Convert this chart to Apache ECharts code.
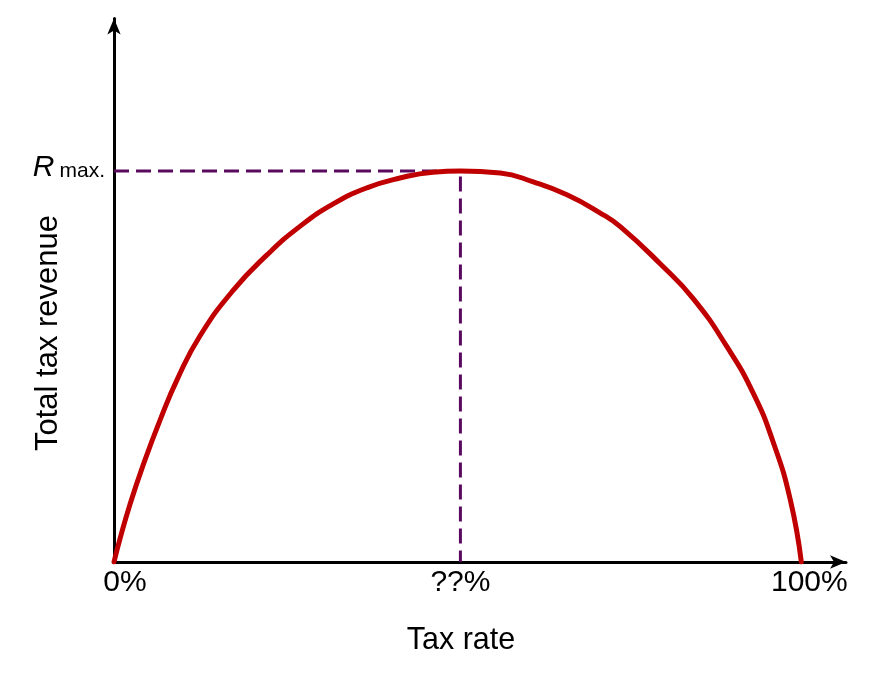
<!DOCTYPE html>
<html>
<head>
<meta charset="utf-8">
<title>Laffer curve</title>
<script src="https://cdn.jsdelivr.net/npm/echarts@6/dist/echarts.min.js"></script>
<style>
  html, body { margin: 0; padding: 0; background: #fff; }
  #chart { width: 871px; height: 673px; }
</style>
</head>
<body>
<div id="chart"></div>
<script>
// tax rate (%) and revenue (% of max)
const taxRate = [0, 0.9, 2.3, 4.2, 6.7, 9.3, 12.5, 17.3, 22.3, 27.1, 31.9, 36.8, 41.6, 46.4, 50.4,
  56.2, 61.0, 65.9, 70.7, 73.7, 79.5, 84.3, 89.2, 93.0, 95.9, 98.4, 100]
const revenue = [0, 6.1, 14.6, 24.6, 36.3, 47.1, 57.8, 69.4, 78.6, 85.9, 91.6, 95.7, 98.2, 99.7, 100,
  99.5, 97.2, 93.9, 89.3, 85.7, 76.2, 67.3, 55.0, 43.2, 30.7, 15.9, 0]

// peak of the curve (dashed guide lines)
const peakRate = 50.4
const peakRevenue = 100

const xTickValues = [0, peakRate, 100]
const xTickLabels = ['{a|0%}', '{b|??%}', '{c|100%}']

const chart = echarts.init(document.getElementById('chart'))

const font = 'Liberation Sans, Arial, sans-serif'
const tickStyle = { fontSize: 30, fontFamily: font, color: '#000' }

const option = {
  animation: false,
  grid: { left: 114, right: 25, top: 18.5, bottom: 111 },
  xAxis: {
    type: 'value',
    min: 0,
    max: 106.5,
    splitLine: { show: false },
    axisTick: { show: false },
    axisLine: {
      onZero: false,
      symbol: ['none', 'arrow'],
      symbolSize: [10, 16],
      lineStyle: { color: '#000', width: 3 }
    },
    axisLabel: {
      customValues: xTickValues,
      formatter: v => xTickLabels[xTickValues.indexOf(v)],
      margin: 6,
      rich: {
        a: Object.assign({ padding: [0, 0, 0, 22] }, tickStyle),
        b: tickStyle,
        c: Object.assign({ padding: [0, 0, 0, 16] }, tickStyle)
      }
    }
  },
  yAxis: {
    type: 'value',
    min: 0,
    max: 139,
    splitLine: { show: false },
    axisTick: { show: false },
    axisLine: {
      onZero: false,
      symbol: ['none', 'arrow'],
      symbolSize: [10, 16],
      lineStyle: { color: '#000', width: 3 }
    },
    axisLabel: {
      customValues: [peakRevenue],
      formatter: () => '{r|R}{m|max.}',
      margin: 9,
      rich: {
        r: { fontSize: 30, fontStyle: 'italic', fontFamily: font, color: '#000', padding: [0, 5, 7, 0] },
        m: { fontSize: 21, fontFamily: font, color: '#000' }
      }
    }
  },
  graphic: [
    {
      type: 'text',
      x: 461,
      y: 641,
      style: {
        text: 'Tax rate',
        fontSize: 30.5,
        fontFamily: font,
        fill: '#000',
        align: 'center',
        verticalAlign: 'middle'
      }
    },
    {
      type: 'text',
      x: 48,
      y: 333,
      rotation: Math.PI / 2,
      style: {
        text: 'Total tax revenue',
        fontSize: 31,
        fontFamily: font,
        fill: '#000',
        align: 'center',
        verticalAlign: 'middle'
      }
    }
  ],
  series: [
    {
      name: 'guides',
      type: 'line',
      symbol: 'none',
      silent: true,
      data: [[0, peakRevenue], [peakRate, peakRevenue], [peakRate, 0]],
      lineStyle: { color: '#5a0a5e', width: 3, type: [15, 7] },
      z: 1
    },
    {
      name: 'revenue',
      type: 'line',
      symbol: 'none',
      smooth: 0.5,
      data: taxRate.map((x, i) => [x, revenue[i]]),
      lineStyle: { color: '#c00000', width: 5, cap: 'round' },
      z: 2
    }
  ]
}

chart.setOption(option)
</script>
</body>
</html>
